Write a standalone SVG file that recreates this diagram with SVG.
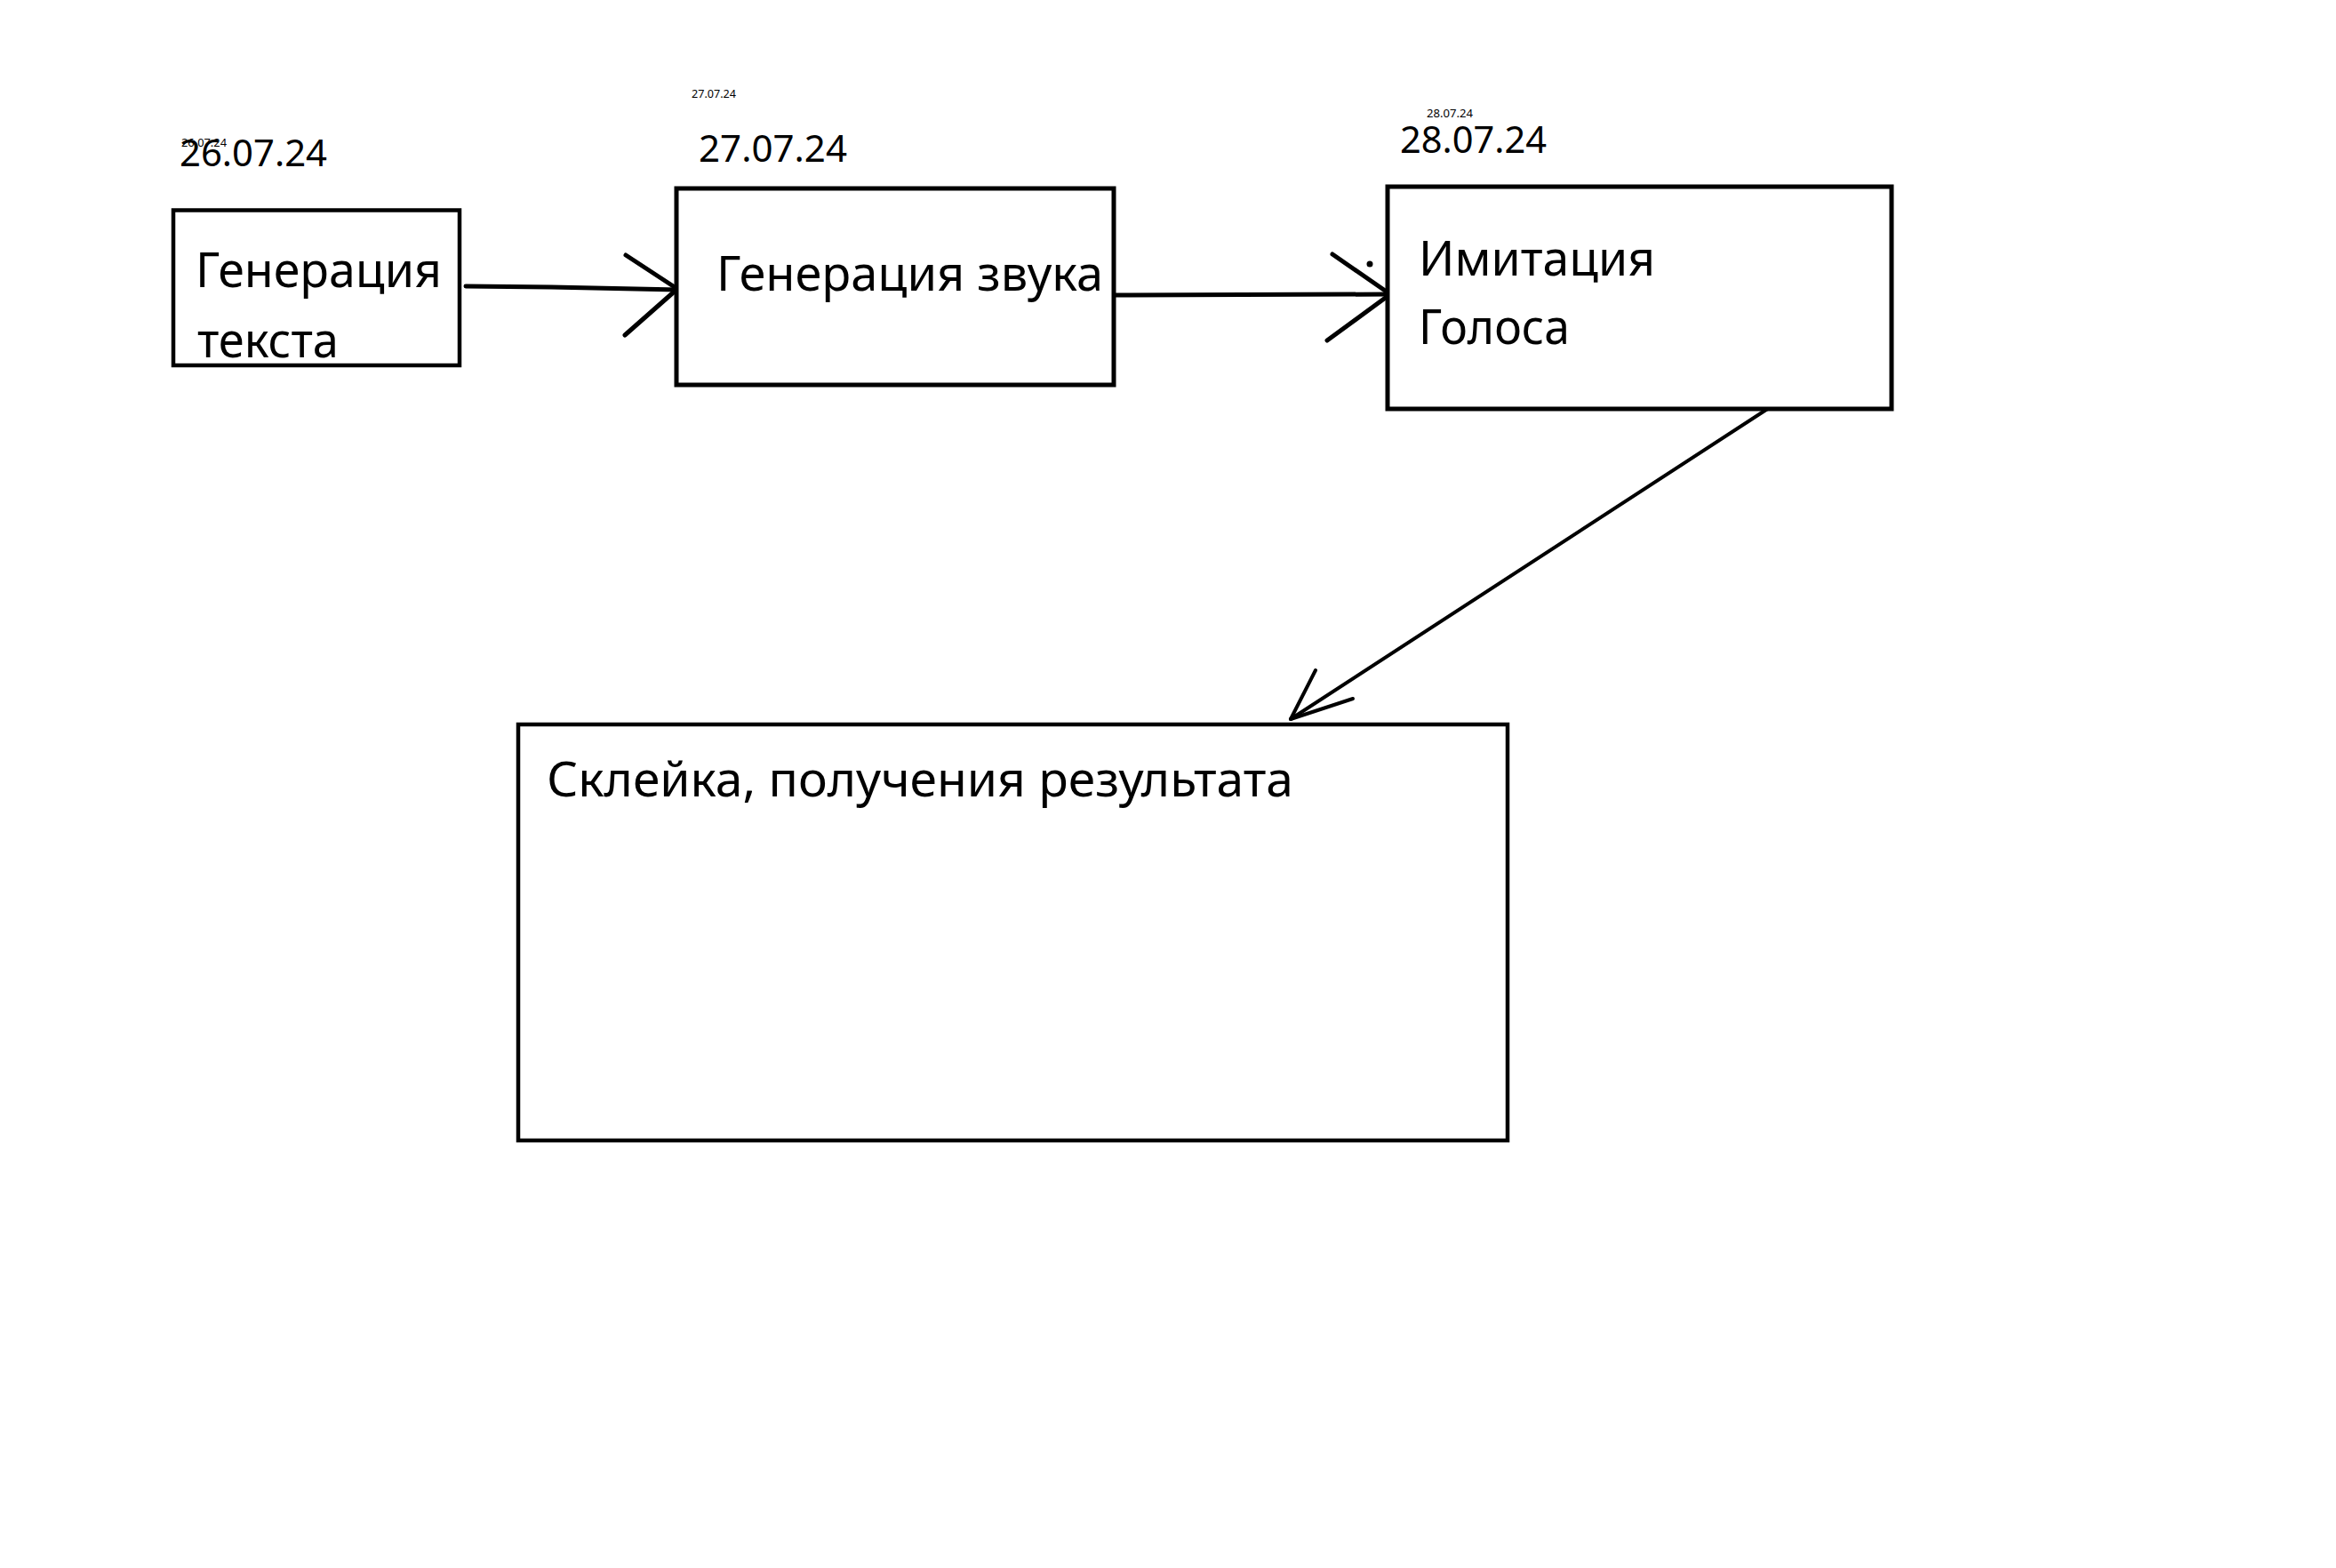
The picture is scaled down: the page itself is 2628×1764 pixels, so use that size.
<svg xmlns="http://www.w3.org/2000/svg" width="2628" height="1764" viewBox="0 0 2628 1764">
<style>
.box{fill:#fff;stroke:#000;stroke-width:5}
.t{font-family:"Noto Sans","Open Sans","Liberation Sans",sans-serif;fill:#000}
.big{font-size:55px}
.date{font-size:42px}
.sm{font-size:13px}
.ln{stroke:#000;stroke-width:5;stroke-linecap:round;fill:none}
.thin{stroke:#000;stroke-width:4;stroke-linecap:round;fill:none}
</style>
<rect width="2628" height="1764" fill="#fff"/>
<g id="connectors">
<polyline class="ln" points="524,322 620,323 763,326"/>
<line class="ln" x1="704" y1="287" x2="762" y2="325"/>
<line class="ln" x1="703" y1="377" x2="762" y2="325"/>
<line class="ln" x1="1253" y1="332" x2="1564" y2="331"/>
<line class="ln" x1="1499" y1="286" x2="1564" y2="331"/>
<line class="ln" x1="1493" y1="383" x2="1564" y2="331"/>
<circle cx="1541" cy="297" r="3.5" fill="#000"/>
<line class="thin" x1="1990" y1="459" x2="1452" y2="809"/>
<line class="thin" x1="1480" y1="754" x2="1452" y2="809"/>
<line class="thin" x1="1522" y1="786" x2="1452" y2="809"/>
</g>
<g id="node1">
<rect class="box" x="195" y="236.5" width="322" height="174.5" style="stroke-width:4.5"/>
<text class="t big" x="220" y="323" textLength="277" lengthAdjust="spacingAndGlyphs">Генерация</text>
<text class="t big" x="222" y="402" textLength="159" lengthAdjust="spacingAndGlyphs">текста</text>
<text class="t date" x="202" y="187" textLength="166" lengthAdjust="spacingAndGlyphs">26.07.24</text>
<text class="t sm" x="204" y="165" textLength="51" lengthAdjust="spacingAndGlyphs">26.07.24</text>
</g>
<g id="node2">
<rect class="box" x="761" y="212" width="492" height="221"/>
<text class="t big" x="806" y="327" textLength="435" lengthAdjust="spacingAndGlyphs">Генерация звука</text>
<text class="t date" x="786" y="182" textLength="167" lengthAdjust="spacingAndGlyphs">27.07.24</text>
<text class="t sm" x="778" y="110" textLength="50" lengthAdjust="spacingAndGlyphs">27.07.24</text>
</g>
<g id="node3">
<rect class="box" x="1561" y="210" width="567" height="250"/>
<text class="t big" x="1596" y="310" textLength="266" lengthAdjust="spacingAndGlyphs">Имитация</text>
<text class="t big" x="1596" y="387" textLength="170" lengthAdjust="spacingAndGlyphs">Голоса</text>
<text class="t date" x="1575" y="172" textLength="165" lengthAdjust="spacingAndGlyphs">28.07.24</text>
<text class="t sm" x="1605" y="132" textLength="52" lengthAdjust="spacingAndGlyphs">28.07.24</text>
</g>
<g id="node4">
<rect class="box" x="583" y="815" width="1113" height="468" style="stroke-width:4.5"/>
<text class="t big" x="615" y="896" textLength="840" lengthAdjust="spacingAndGlyphs">Склейка, получения результата</text>
</g>
</svg>
